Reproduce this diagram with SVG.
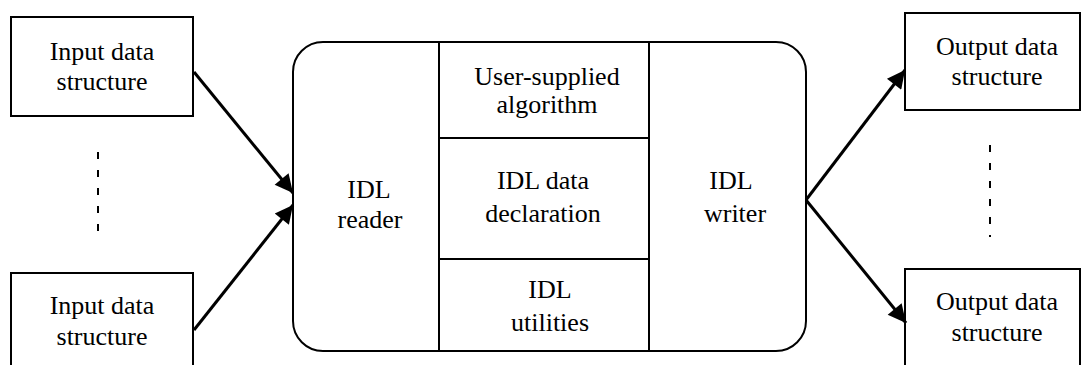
<svg xmlns="http://www.w3.org/2000/svg" width="1082" height="365" viewBox="0 0 1082 365">
  <style>
    .box { fill: #ffffff; stroke: #000000; stroke-width: 2; }
    .div { fill: none; stroke: #000000; stroke-width: 2; }
    .lbl { font-size: 26px; fill: #000000; text-anchor: middle; }
    .edge { fill: none; stroke: #000000; stroke-width: 3; }
    .dots { fill: none; stroke: #000000; stroke-width: 2; stroke-dasharray: 7 11; }
  </style>
  <defs>
    <marker id="arrow" viewBox="0 0 10 10" refX="10" refY="5" markerWidth="7" markerHeight="6" markerUnits="strokeWidth" orient="auto">
      <path d="M0,0 L10,5 L0,10 Z" fill="#000000"/>
    </marker>
  </defs>
  <rect width="1082" height="365" fill="#ffffff"/>

  <g font-family="'Liberation Serif', 'DejaVu Serif', 'Times New Roman', serif">
  <!-- input structures -->
  <g id="input-top">
    <rect class="box" x="11" y="17" width="182" height="99"/>
    <text class="lbl" x="102" y="60">Input data</text>
    <text class="lbl" x="102" y="90">structure</text>
  </g>
  <g id="input-bottom">
    <rect class="box" x="11" y="273" width="182" height="110"/>
    <text class="lbl" x="102" y="314">Input data</text>
    <text class="lbl" x="102" y="345">structure</text>
  </g>

  <!-- processing block -->
  <g id="processor">
    <rect class="box" x="293" y="42" width="513" height="309" rx="30" ry="30"/>
    <line class="div" x1="439" y1="42" x2="439" y2="351"/>
    <line class="div" x1="649" y1="42" x2="649" y2="351"/>
  </g>
  <g id="idl-reader">
    <text class="lbl" x="369" y="198">IDL</text>
    <text class="lbl" x="370" y="228">reader</text>
  </g>
  <g id="user-algorithm">
    <text class="lbl" x="547" y="85">User-supplied</text>
    <text class="lbl" x="547" y="113">algorithm</text>
  </g>
  <g id="idl-declaration">
    <line class="div" x1="439" y1="138" x2="649" y2="138"/>
    <text class="lbl" x="543" y="189">IDL data</text>
    <text class="lbl" x="543" y="222">declaration</text>
  </g>
  <g id="idl-utilities">
    <line class="div" x1="439" y1="259" x2="649" y2="259"/>
    <text class="lbl" x="550" y="298">IDL</text>
    <text class="lbl" x="550" y="331">utilities</text>
  </g>
  <g id="idl-writer">
    <text class="lbl" x="731" y="189">IDL</text>
    <text class="lbl" x="735" y="222">writer</text>
  </g>

  <!-- output structures -->
  <g id="output-top">
    <rect class="box" x="905" y="13" width="175" height="97"/>
    <text class="lbl" x="997" y="55">Output data</text>
    <text class="lbl" x="997" y="85">structure</text>
  </g>
  <g id="output-bottom">
    <rect class="box" x="905" y="269" width="175" height="110"/>
    <text class="lbl" x="997" y="310">Output data</text>
    <text class="lbl" x="997" y="341">structure</text>
  </g>
  </g>

  <!-- connectors -->
  <g id="connectors">
    <line class="edge" x1="194" y1="72" x2="293" y2="193" marker-end="url(#arrow)"/>
    <line class="edge" x1="194" y1="330" x2="293" y2="205" marker-end="url(#arrow)"/>
    <line class="edge" x1="806" y1="200" x2="905" y2="70" marker-end="url(#arrow)"/>
    <line class="edge" x1="806" y1="200" x2="906" y2="323" marker-end="url(#arrow)"/>
    <line class="dots" x1="98" y1="152" x2="98" y2="240"/>
    <line class="dots" x1="990" y1="145" x2="990" y2="237"/>
  </g>
</svg>
